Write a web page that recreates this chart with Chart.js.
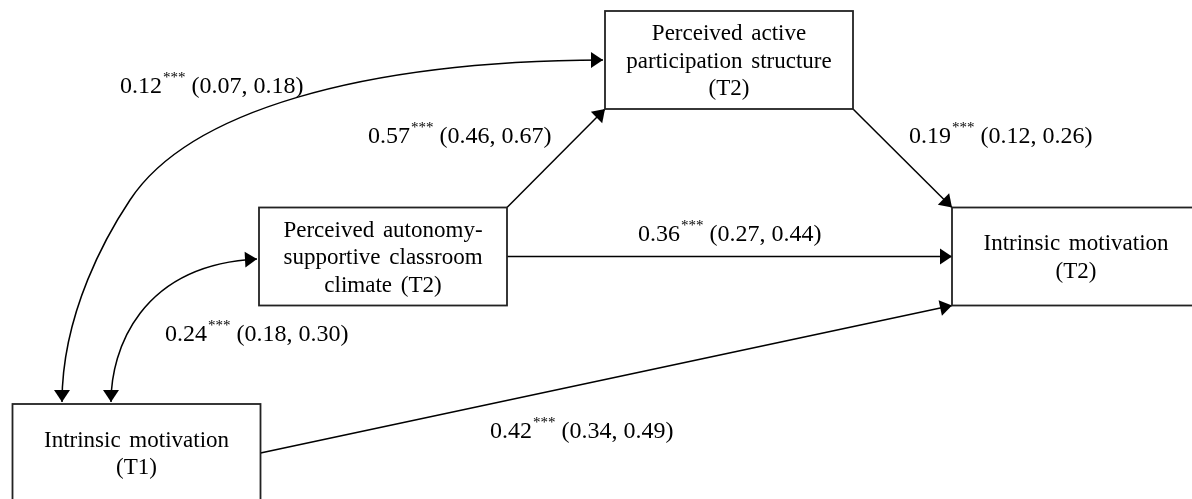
<!DOCTYPE html>
<html>
<head>
<meta charset="utf-8">
<script src="https://cdn.jsdelivr.net/npm/chart.js@4.4.1/dist/chart.umd.min.js"></script>
<style>
  html, body { margin: 0; padding: 0; background: #fff; }
  #wrap { width: 1192px; height: 499px; position: relative; }
</style>
</head>
<body>
<div id="wrap"><canvas id="pathChart"></canvas></div>
<script>
// nodes of the path model
const nodeLines = [
    ['Perceived active', 'participation structure', '(T2)'],
    ['Perceived autonomy-', 'supportive classroom', 'climate (T2)'],
    ['Intrinsic motivation', '(T2)'],
    ['Intrinsic motivation', '(T1)']
];
const nodeX = [729, 383, 1076, 136.5];
const nodeY = [60, 256.5, 256.5, 453];

// paths: from -> to, estimate and 95% CI
const pathFrom = [1, 0, 1, 3, 3, 3];
const pathTo = [0, 2, 2, 2, 1, 0];
const pathCoef = [0.57, 0.19, 0.36, 0.42, 0.24, 0.12];
const pathLow = [0.46, 0.12, 0.27, 0.34, 0.18, 0.07];
const pathHigh = [0.67, 0.26, 0.44, 0.49, 0.30, 0.18];
const pathStars = ['***', '***', '***', '***', '***', '***'];

// drawing layout (not data)
const BOX_W = 248, BOX_H = 98;
const labelPos = [[368, 137], [909, 137], [638, 235], [490, 432], [165, 335], [120, 87]];
// which box corner / side each straight path uses
const anchors = [
    [[1, -1], [-1, 1]],
    [[1, 1], [-1, -1]],
    [[1, 0], [-1, 0]],
    [[1, 0], [-1, 1]]
];
// curved (covariance) paths, as cubic segments in chart units
const curves = {
    4: [[[111, 402], [111, 350], [140, 265], [257, 259]]],
    5: [[[62, 402], [62, 312], [108, 233], [130, 200]],
        [[130, 200], [188, 112], [360, 61], [603, 60]]]
};

const FONT = '"Liberation Serif", "Times New Roman", serif';

function arrowHead(ctx, tip, from) {
    const ang = Math.atan2(tip[1] - from[1], tip[0] - from[0]);
    const len = 12, half = 8;
    ctx.beginPath();
    ctx.moveTo(tip[0], tip[1]);
    ctx.lineTo(tip[0] - len * Math.cos(ang) + half * Math.sin(ang), tip[1] - len * Math.sin(ang) - half * Math.cos(ang));
    ctx.lineTo(tip[0] - len * Math.cos(ang) - half * Math.sin(ang), tip[1] - len * Math.sin(ang) + half * Math.cos(ang));
    ctx.closePath();
    ctx.fill();
}

const diagramPlugin = {
    id: 'diagram',
    beforeDraw(chart) {
        const ctx = chart.ctx;
        ctx.save();
        ctx.fillStyle = '#fff';
        ctx.fillRect(0, 0, chart.width, chart.height);
        ctx.restore();
    },
    afterDatasetsDraw(chart) {
        const ctx = chart.ctx;
        const xs = chart.scales.x, ys = chart.scales.y;
        const X = v => xs.getPixelForValue(v);
        const Y = v => ys.getPixelForValue(v);
        const pts = chart.getDatasetMeta(0).data;
        const w = X(BOX_W) - X(0), h = Y(BOX_H) - Y(0);
        const anchor = (i, a) => [pts[i].x + a[0] * w / 2, pts[i].y + a[1] * h / 2];

        ctx.save();
        ctx.strokeStyle = '#000';
        ctx.fillStyle = '#000';
        ctx.lineWidth = 1.5;

        // straight paths
        anchors.forEach((a, k) => {
            const p0 = anchor(pathFrom[k], a[0]);
            const p1 = anchor(pathTo[k], a[1]);
            ctx.beginPath();
            ctx.moveTo(p0[0], p0[1]);
            ctx.lineTo(p1[0], p1[1]);
            ctx.stroke();
            arrowHead(ctx, p1, p0);
        });

        // curved double-headed paths
        Object.keys(curves).forEach(k => {
            const segs = curves[k].map(s => s.map(p => [X(p[0]), Y(p[1])]));
            ctx.beginPath();
            ctx.moveTo(segs[0][0][0], segs[0][0][1]);
            segs.forEach(s => ctx.bezierCurveTo(s[1][0], s[1][1], s[2][0], s[2][1], s[3][0], s[3][1]));
            ctx.stroke();
            const first = segs[0], last = segs[segs.length - 1];
            arrowHead(ctx, first[0], first[1]);
            arrowHead(ctx, last[3], last[2]);
        });

        // boxes
        ctx.strokeStyle = '#222';
        ctx.lineWidth = 1.8;
        pts.forEach((p, i) => {
            ctx.fillStyle = '#fff';
            ctx.fillRect(p.x - w / 2, p.y - h / 2, w, h);
            ctx.strokeRect(p.x - w / 2, p.y - h / 2, w, h);
            ctx.fillStyle = '#000';
            ctx.font = '23px ' + FONT;
            ctx.textAlign = 'center';
            ctx.textBaseline = 'middle';
            if ('wordSpacing' in ctx) ctx.wordSpacing = '3px';
            const lines = nodeLines[i];
            const lh = 27.5;
            lines.forEach((t, j) => {
                ctx.fillText(t, p.x, p.y + 1.5 + (j - (lines.length - 1) / 2) * lh);
            });
            if ('wordSpacing' in ctx) ctx.wordSpacing = '0px';
        });

        // coefficient labels
        ctx.textAlign = 'left';
        ctx.textBaseline = 'middle';
        pathCoef.forEach((c, k) => {
            let x = X(labelPos[k][0]);
            const y = Y(labelPos[k][1]);
            ctx.font = '24px ' + FONT;
            const main = c.toFixed(2);
            ctx.fillText(main, x, y);
            x += ctx.measureText(main).width;
            ctx.font = '15px ' + FONT;
            ctx.fillText(pathStars[k], x + 1, y - 9);
            x += ctx.measureText(pathStars[k]).width + 1;
            ctx.font = '24px ' + FONT;
            ctx.fillText(' (' + pathLow[k].toFixed(2) + ', ' + pathHigh[k].toFixed(2) + ')', x, y);
        });
        ctx.restore();
    }
};

new Chart(document.getElementById('pathChart'), {
    type: 'scatter',
    data: {
        datasets: [{
            data: nodeX.map((x, i) => ({ x: x, y: nodeY[i] })),
            pointRadius: 0,
            pointHoverRadius: 0
        }]
    },
    options: {
        responsive: true,
        maintainAspectRatio: false,
        animation: false,
        layout: { padding: 0 },
        plugins: { legend: { display: false }, tooltip: { enabled: false } },
        scales: {
            x: { type: 'linear', min: 0, max: 1192, display: false },
            y: { type: 'linear', min: 0, max: 499, reverse: true, display: false }
        }
    },
    plugins: [diagramPlugin]
});
</script>
</body>
</html>
